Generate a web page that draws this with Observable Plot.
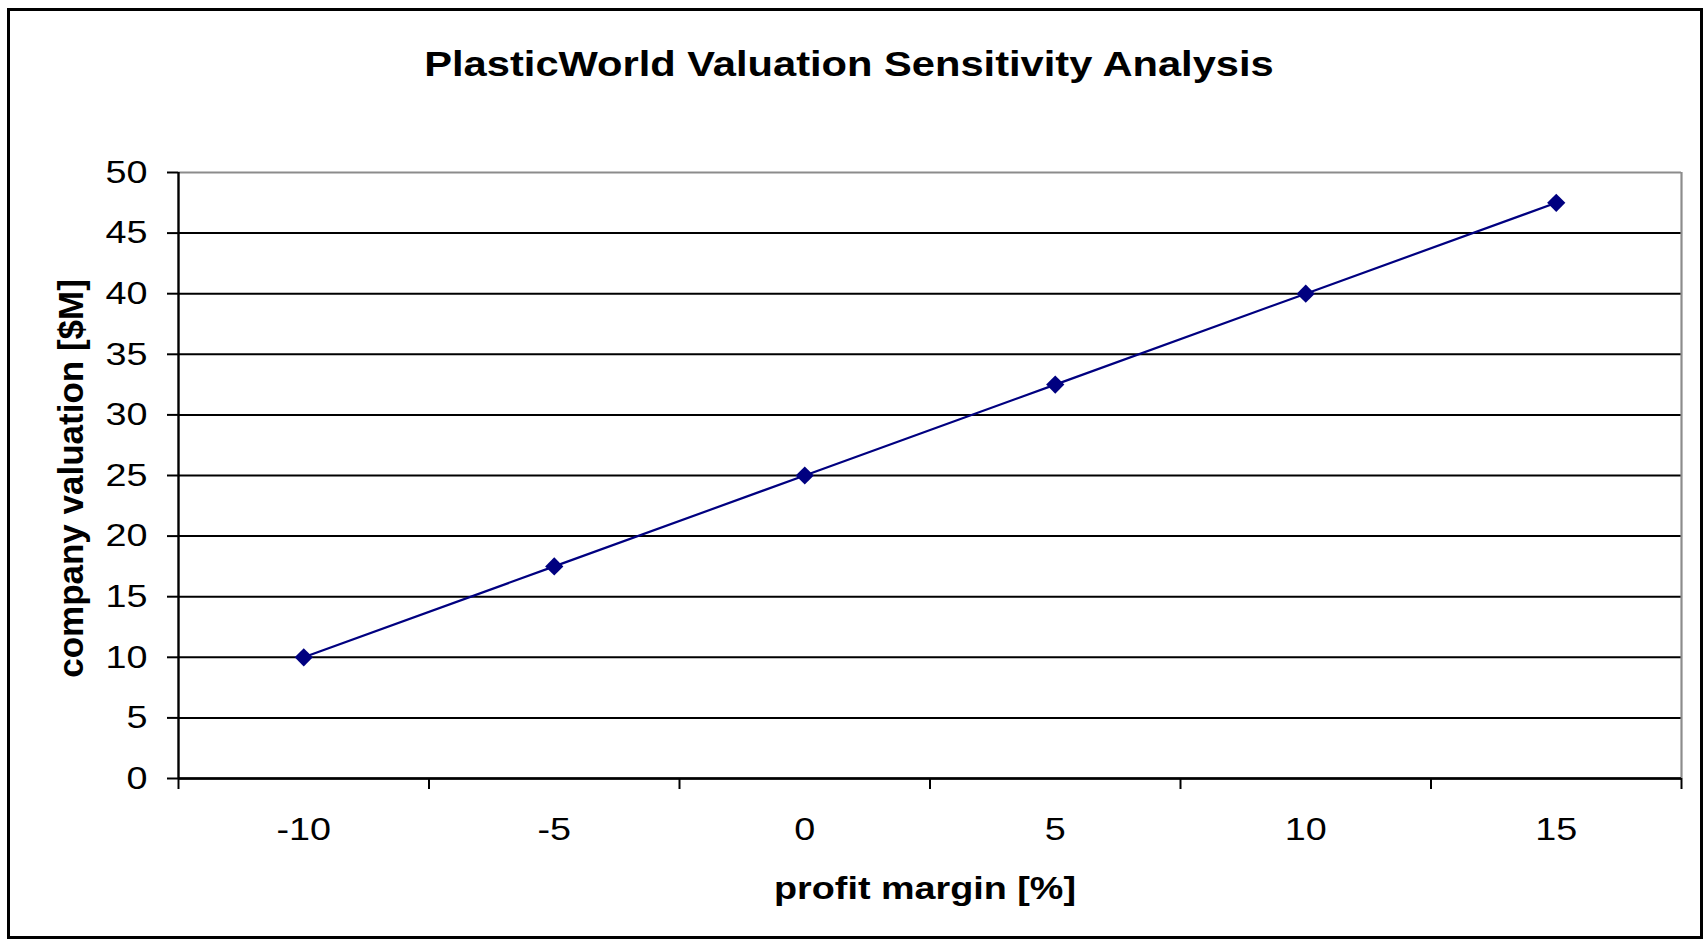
<!DOCTYPE html>
<html><head><meta charset="utf-8">
<script src="https://cdn.jsdelivr.net/npm/d3@7"></script>
<script src="https://cdn.jsdelivr.net/npm/@observablehq/plot@0.6"></script>
<style>
body{margin:0;background:#fff;}
#chart{position:relative;width:1704px;height:939px;overflow:hidden;background:#fff;font-family:"Liberation Sans",Arial,sans-serif;}
#frame{position:absolute;left:7px;top:8px;width:1696px;height:931px;border:3px solid #000;box-sizing:border-box;pointer-events:none;z-index:2;}
#title{height:100px;position:relative;}
#title span{position:absolute;left:0;width:1698px;top:46px;text-align:center;font-weight:bold;font-size:35px;line-height:1;transform:scaleX(1.19);color:#000;}
svg{display:block}
</style></head>
<body><div id="chart"><div id="title"><span id="titletext"></span></div><div id="frame"></div></div>
<script>
const title = "PlasticWorld Valuation Sensitivity Analysis";
const xLabel = "profit margin [%]";
const yLabel = "company valuation [$M]";
const profitMargin = [-10, -5, 0, 5, 10, 15];
const valuation = [10, 17.5, 25, 32.5, 40, 47.5];
const yTicks = [0, 5, 10, 15, 20, 25, 30, 35, 40, 45, 50];

const SX = 1.18;
const step = profitMargin[1] - profitMargin[0];
const xDomain = [d3.min(profitMargin) - step / 2, d3.max(profitMargin) + step / 2];
const boundaries = d3.range(profitMargin.length + 1).map(i => xDomain[0] + i * step);
const data = profitMargin.map((x, i) => ({x, y: valuation[i]}));

document.getElementById("titletext").textContent = title;

const chart = Plot.plot({
  width: 1704, height: 839,
  marginTop: 72, marginBottom: 161, marginLeft: 178, marginRight: 23,
  style: {fontFamily: '"Liberation Sans", Arial, sans-serif', color: "#000", background: "transparent", overflow: "visible"},
  x: {type: "linear", domain: xDomain},
  y: {type: "linear", domain: [yTicks[0], yTicks[yTicks.length - 1]]},
  marks: [
    Plot.gridY(yTicks.slice(0, -1), {stroke: "#000", strokeOpacity: 1, strokeWidth: 2}),
    Plot.ruleY([yTicks[yTicks.length - 1]], {stroke: "#8c8c8c", strokeWidth: 2.2}),
    Plot.ruleX([xDomain[1]], {stroke: "#8c8c8c", strokeWidth: 2.2}),
    Plot.ruleX([xDomain[0]], {stroke: "#000", strokeWidth: 2.4}),
    Plot.ruleY([yTicks[0]], {stroke: "#000", strokeWidth: 2.4}),
    Plot.axisY({ticks: yTicks, tickSize: 11, tickPadding: 20, fontSize: 32, label: null, strokeWidth: 2, tickFormat: d => String(d)}),
    Plot.axisX({ticks: boundaries, tickSize: 11, tickFormat: () => "", label: null, strokeWidth: 2}),
    Plot.axisX({ticks: profitMargin, tickSize: 0, tickPadding: 39, fontSize: 32, label: null, tickFormat: d => String(d)}),
    Plot.line(data, {x: "x", y: "y", stroke: "#000080", strokeWidth: 2.2}),
    Plot.dot(data, {x: "x", y: "y", symbol: "diamond2", r: 8.2, fill: "#000080", stroke: null}),
    Plot.text([xLabel], {frameAnchor: "bottom", dy: 110, dx: -5, textAnchor: "middle", lineAnchor: "middle", fontSize: 32, fontWeight: "bold", fill: "#000"}),
    Plot.text([yLabel], {frameAnchor: "left", dx: -107, dy: 3, textAnchor: "middle", lineAnchor: "middle", rotate: -90, fontSize: 35, fontWeight: "bold", fill: "#000"})
  ]
});

d3.select(chart).selectAll("text").each(function() {
  const t = this.getAttribute("transform");
  if (t && t.includes("rotate")) return;
  if (t) {
    this.setAttribute("transform", `${t} scale(${SX},1)`);
  } else {
    const x = parseFloat(this.getAttribute("x"));
    if (!isNaN(x) && !/em/.test(this.getAttribute("x"))) {
      this.removeAttribute("x");
      this.setAttribute("transform", `translate(${x},0) scale(${SX},1)`);
    }
  }
});

document.getElementById("chart").insertBefore(chart, document.getElementById("frame"));
</script>
</body></html>
